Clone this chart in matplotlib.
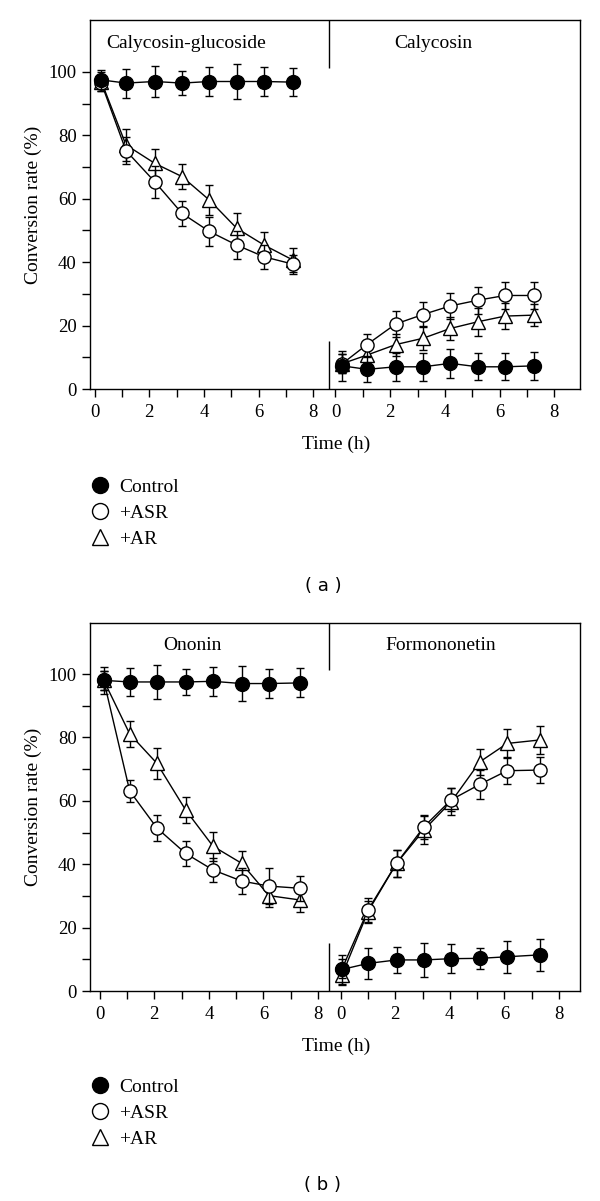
import matplotlib
matplotlib.use("Agg")
import matplotlib.pyplot as plt
from matplotlib.lines import Line2D
from matplotlib.ticker import FixedLocator

plt.rcParams["font.family"] = "serif"
plt.rcParams["font.serif"] = ["Liberation Serif", "DejaVu Serif"]

# sampling times (h)
TIME_A = [0.25, 1.15, 2.2, 3.2, 4.2, 5.2, 6.2, 7.25]
TIME_B = [0.15, 1.1, 2.1, 3.15, 4.15, 5.2, 6.2, 7.35]
TIME_B_PRODUCT = [0.05, 1.0, 2.05, 3.05, 4.05, 5.1, 6.1, 7.3]

# (a) Calycosin-glucoside -> Calycosin
CG_CONTROL = [97.5, 96.5, 97, 96.5, 97, 97, 97, 96.8]
CG_CONTROL_ERR = [3, 4.6, 5, 3.8, 4.5, 5.5, 4.5, 4.4]
CG_ASR = [96.5, 75.2, 65.4, 55.4, 49.7, 45.4, 41.7, 39.4]
CG_ASR_ERR = [2.5, 4.3, 5, 4, 4.5, 4.5, 3.7, 3]
CG_AR = [97, 77, 71.2, 67, 59.6, 50.7, 45.4, 40.7]
CG_AR_ERR = [3, 5, 4.6, 4, 4.6, 4.7, 4.2, 3.7]

C_CONTROL = [7.3, 6.2, 7.0, 7.0, 8.1, 7.0, 7.0, 7.3]
C_CONTROL_ERR = [4.8, 4, 4.5, 4.5, 4.5, 4.2, 4.2, 4.5]
C_ASR = [8, 14, 20.5, 23.5, 26.2, 28, 29.5, 29.5]
C_ASR_ERR = [3, 3.5, 4, 3.8, 4, 4.2, 4.2, 4.2]
C_AR = [8, 10.7, 14, 16, 19.1, 21.2, 23, 23.3]
C_AR_ERR = [3, 3.5, 3.5, 3.8, 3.5, 4.5, 4, 3.5]

# (b) Ononin -> Formononetin
O_CONTROL = [98, 97.5, 97.5, 97.5, 97.7, 97, 97, 97.2]
O_CONTROL_ERR = [4.2, 4.5, 5.5, 4, 4.6, 5.5, 4.7, 4.6]
O_ASR = [98, 63.1, 51.4, 43.4, 38.2, 34.7, 33.1, 32.4]
O_ASR_ERR = [3, 3.5, 4, 4, 3.7, 4, 5.8, 4]
O_AR = [98, 81.1, 71.8, 57.1, 45.7, 40.3, 30.1, 28.7]
O_AR_ERR = [3, 4.2, 4.8, 4, 4.6, 4, 3.5, 3.7]

F_CONTROL = [6.8, 8.7, 9.8, 9.8, 10.2, 10.3, 10.8, 11.4]
F_CONTROL_ERR = [4.5, 4.8, 4, 5.3, 4.6, 3.3, 5.1, 5]
F_ASR = [7, 25.5, 40.3, 51.8, 60.3, 65.2, 69.5, 69.7]
F_ASR_ERR = [3, 3.7, 4.2, 3.7, 3.6, 4.6, 4.3, 4]
F_AR = [5, 25, 40.3, 50.8, 59.7, 72.3, 78.1, 79.2]
F_AR_ERR = [3, 3.5, 4.2, 4.5, 4.2, 4, 4.7, 4.4]

SERIES_LABELS = ["Control", "+ASR", "+AR"]
X_TICKS = list(range(9))
FS = 14
TICK_FS = 13.5

STYLES = {
    "Control": dict(marker="o", ms=10, mfc="black"),
    "+ASR": dict(marker="o", ms=9.5, mfc="white"),
    "+AR": dict(marker="^", ms=10, mfc="white"),
}


def plot_series(ax, times, values, errs, label, shift=0.0, z=2):
    xs = [t + shift for t in times]
    ax.errorbar(xs, values, yerr=errs, color="black", lw=1.0, mec="black",
                mew=1.0, elinewidth=1.0, capsize=3, capthick=1.0, zorder=z,
                **STYLES[label])


def draw_panel(ax, xlim, ylim_top, shift, divider, left, right, titles, title_x):
    for times, vals, errs, label, z in left:
        plot_series(ax, times, vals, errs, label, 0.0, z)
    for times, vals, errs, label, z in right:
        plot_series(ax, times, vals, errs, label, shift, z)

    ax.set_xlim(*xlim)
    ax.set_ylim(0, ylim_top)

    ticks = X_TICKS + [t + shift for t in X_TICKS]
    labels = [str(t) if t % 2 == 0 else "" for t in X_TICKS] * 2
    ax.set_xticks(ticks)
    ax.set_xticklabels(labels)
    ax.set_yticks([0, 20, 40, 60, 80, 100])
    ax.yaxis.set_minor_locator(FixedLocator([10, 30, 50, 70, 90]))
    ax.tick_params(axis="both", which="both", direction="out", length=6,
                   width=1.0, labelsize=TICK_FS)
    ax.tick_params(axis="x", pad=5)
    ax.tick_params(axis="y", pad=4)
    for sp in ax.spines.values():
        sp.set_linewidth(1.0)

    # split markers between substrate and product halves
    ax.vlines(divider, 0, 15, color="black", lw=1.0)
    ax.vlines(divider, 101.3, ylim_top, color="black", lw=1.0)

    ax.text(title_x[0], 109, titles[0], ha="center", va="center", fontsize=FS)
    ax.text(title_x[1], 109, titles[1], ha="center", va="center", fontsize=FS)

    ax.set_ylabel("Conversion rate (%)", fontsize=FS)
    ax.yaxis.set_label_coords(-0.098, 0.5)
    ax.set_xlabel("Time (h)", fontsize=FS)
    ax.xaxis.set_label_coords(0.503, -0.127)


def add_legend(fig, top_px):
    handles = [Line2D([], [], ls="none", color="black", mec="black", mew=1.0,
                      marker=STYLES[l]["marker"], mfc=STYLES[l]["mfc"], ms=11.5)
               for l in SERIES_LABELS]
    fig.legend(handles, SERIES_LABELS, loc="upper left",
               bbox_to_anchor=(90 / 600, 1 - top_px / 1201), frameon=False,
               fontsize=FS, borderpad=0, borderaxespad=0, handlelength=1.0,
               handletextpad=0.5, labelspacing=0.44)


def main():
    fig = plt.figure(figsize=(6, 12.01), dpi=100)

    ax_a = fig.add_axes([90.4 / 600, 1 - 389 / 1201, 489.3 / 600, 369 / 1201])
    draw_panel(
        ax_a, (-0.15, 17.74), 116.4, 8.81, 8.56,
        [(TIME_A, CG_AR, CG_AR_ERR, "+AR", 2),
         (TIME_A, CG_ASR, CG_ASR_ERR, "+ASR", 3),
         (TIME_A, CG_CONTROL, CG_CONTROL_ERR, "Control", 4)],
        [(TIME_A, C_AR, C_AR_ERR, "+AR", 2),
         (TIME_A, C_ASR, C_ASR_ERR, "+ASR", 3),
         (TIME_A, C_CONTROL, C_CONTROL_ERR, "Control", 4)],
        ("Calycosin-glucoside", "Calycosin"), (3.34, 12.4),
    )

    ax_b = fig.add_axes([90.4 / 600, 1 - 991 / 1201, 489.3 / 600, 368 / 1201])
    draw_panel(
        ax_b, (-0.34, 17.59), 116.1, 8.83, 8.39,
        [(TIME_B, O_AR, O_AR_ERR, "+AR", 2),
         (TIME_B, O_ASR, O_ASR_ERR, "+ASR", 3),
         (TIME_B, O_CONTROL, O_CONTROL_ERR, "Control", 4)],
        [(TIME_B_PRODUCT, F_AR, F_AR_ERR, "+AR", 2),
         (TIME_B_PRODUCT, F_ASR, F_ASR_ERR, "+ASR", 3),
         (TIME_B_PRODUCT, F_CONTROL, F_CONTROL_ERR, "Control", 4)],
        ("Ononin", "Formononetin"), (3.41, 12.48),
    )

    add_legend(fig, 478)
    add_legend(fig, 1078)

    fig.text(323 / 600, 1 - 586 / 1201, "( a )", ha="center", va="center",
             fontsize=13, family="DejaVu Sans")
    fig.text(323 / 600, 1 - 1185 / 1201, "( b )", ha="center", va="center",
             fontsize=13, family="DejaVu Sans")

    fig.savefig("out.png", dpi=100)


if __name__ == "__main__":
    main()
